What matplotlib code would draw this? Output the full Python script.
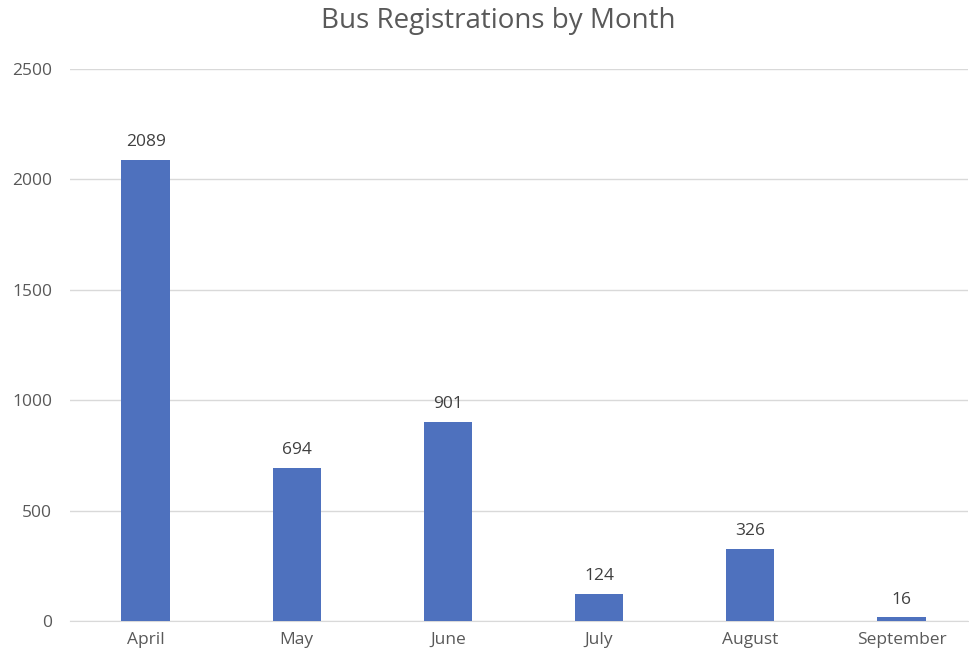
import matplotlib
matplotlib.use("Agg")
from matplotlib import pyplot as plt

months = ["April", "May", "June", "July", "August", "September"]
registrations = [2089, 694, 901, 124, 326, 16]
y_ticks = [0, 500, 1000, 1500, 2000, 2500]

plt.rcParams['font.family'] = ['Open Sans', 'DejaVu Sans']

fig = plt.figure(figsize=(9.7, 6.58), dpi=100)
ax = fig.add_axes([70 / 970, 1 - 621 / 658, 898 / 970, 552 / 658])

x = range(len(months))
bars = ax.bar(x, registrations, width=0.32, color="#4E71BE", zorder=3)

for xi, val in zip(x, registrations):
    ax.text(xi, val + 45, str(val), ha="center", va="bottom",
            fontsize=12.5, color="#404040")

ax.set_xlim(-0.5, len(months) - 0.56)
ax.set_ylim(0, 2500)
ax.set_yticks(y_ticks)
ax.set_yticklabels([str(t) for t in y_ticks])
ax.set_xticks(list(x))
ax.set_xticklabels(months)
ax.grid(axis="y", color="#D9D9D9", linewidth=1, zorder=0)
ax.tick_params(axis="both", length=0, labelsize=12.5, labelcolor="#595959")
ax.tick_params(axis="y", pad=13)
ax.tick_params(axis="x", pad=8)

for side in ["top", "right", "left"]:
    ax.spines[side].set_visible(False)
ax.spines["bottom"].set_color("#D9D9D9")

fig.text(498 / 970, 1 - 21 / 658, "Bus Registrations by Month", ha="center",
         va="center", fontsize=20, color="#595959")

fig.savefig("out.png", dpi=100)
